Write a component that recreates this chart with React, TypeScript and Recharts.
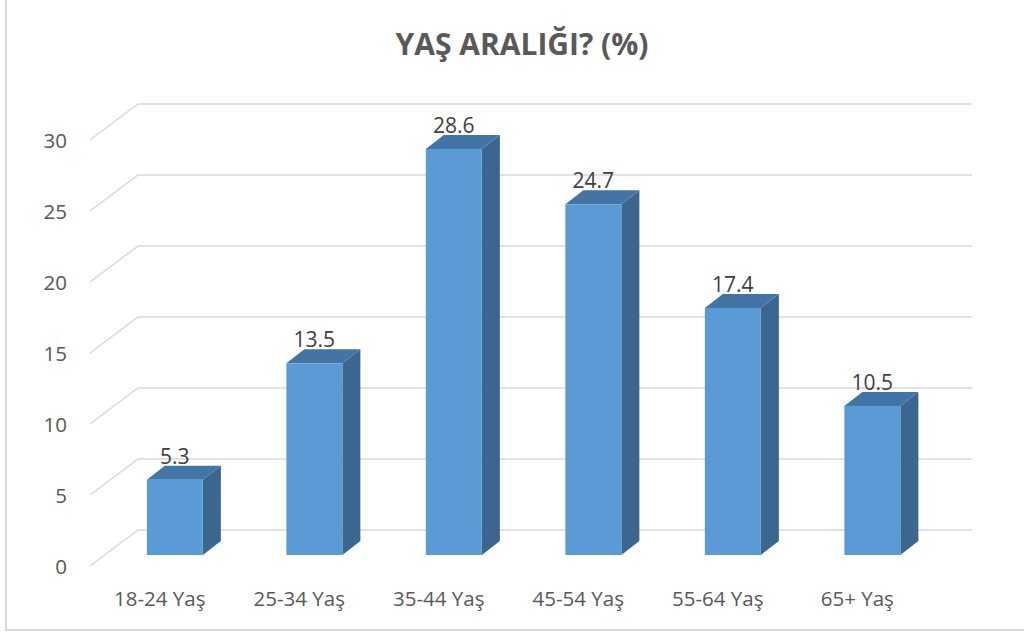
import { BarChart, Bar, XAxis, YAxis, CartesianGrid, LabelList } from "recharts";

const CATEGORIES = ["18-24 Yaş", "25-34 Yaş", "35-44 Yaş", "45-54 Yaş", "55-64 Yaş", "65+ Yaş"];
const VALUES = [5.3, 13.5, 28.6, 24.7, 17.4, 10.5];
const Y_TICKS = [0, 5, 10, 15, 20, 25, 30];

const data = CATEGORIES.map((name, i) => ({ name, value: VALUES[i] }));

const FONT = "'Open Sans', 'Noto Sans', sans-serif";
const DEPTH_X = 18;
const DEPTH_Y = 14;

function Bar3D(props: any) {
  const { x, y, width, height } = props;
  if (height <= 0) return null;
  const top = `M${x},${y} L${x + DEPTH_X},${y - DEPTH_Y} L${x + width + DEPTH_X},${y - DEPTH_Y} L${x + width},${y} Z`;
  const side = `M${x + width},${y} L${x + width + DEPTH_X},${y - DEPTH_Y} L${x + width + DEPTH_X},${y + height - DEPTH_Y} L${x + width},${y + height} Z`;
  return (
    <g>
      <path d={side} fill="#3A6690" />
      <path d={top} fill="#4275A5" />
      <rect x={x} y={y} width={width} height={height} fill="#5B9BD5" />
    </g>
  );
}

function GridLine3D(props: any) {
  const { x1, x2, y1, index } = props;
  const d = `M${x1 - 15},${y1 + 11} L${x1 + 33},${y1 - 25} L${x2 + 30},${y1 - 25}`;
  return <path key={`g-${index}`} d={d} fill="none" stroke="#D9D9D9" strokeWidth={1.5} />;
}

function YTick(props: any) {
  const { x, y, payload } = props;
  return (
    <text x={x - 30} y={y + 11} textAnchor="end" dominantBaseline="central" fill="#595959" fontSize={20.5} fontFamily={FONT}>
      {payload.value}
    </text>
  );
}

function XTick(props: any) {
  const { x, y, payload } = props;
  return (
    <text x={x - 15} y={y + 43} textAnchor="middle" fill="#595959" fontSize={20.5} fontFamily={FONT}>
      {payload.value}
    </text>
  );
}

export default function App() {
  return (
    <div style={{ position: "relative", width: 1024, height: 637, overflow: "hidden", background: "#fff" }}>
      <style>{`body{margin:0}`}</style>
      <div
        style={{
          position: "absolute",
          left: 5,
          top: -2,
          width: 1030,
          height: 633,
          border: "2px solid #D9D9D9",
          boxSizing: "border-box",
        }}
      />
      <div
        style={{
          position: "absolute",
          left: 0,
          width: 1024,
          top: 24,
          textAlign: "center",
          fontFamily: FONT,
          fontWeight: 700,
          fontSize: 30,
          color: "#595959",
          lineHeight: "40px",
          paddingLeft: 10,
        }}
      >
        YAŞ ARALIĞI? (%)
      </div>
      <div style={{ position: "absolute", left: 0, top: 0 }}>
        <BarChart
          width={1024}
          height={637}
          data={data}
          margin={{ top: 129, right: 82, bottom: 42, left: 45 }}
          barCategoryGap="30%"
        >
          <CartesianGrid vertical={false} horizontal={GridLine3D} />
          <XAxis dataKey="name" axisLine={false} tickLine={false} height={40} tick={XTick} interval={0} />
          <YAxis
            domain={[0, 30]}
            ticks={Y_TICKS}
            axisLine={false}
            tickLine={false}
            width={60}
            tick={YTick}
          />
          <Bar dataKey="value" shape={Bar3D} isAnimationActive={false}>
            <LabelList dataKey="value" position="top" offset={16} fill="#404040" fontSize={21} fontFamily={FONT} />
          </Bar>
        </BarChart>
      </div>
    </div>
  );
}
